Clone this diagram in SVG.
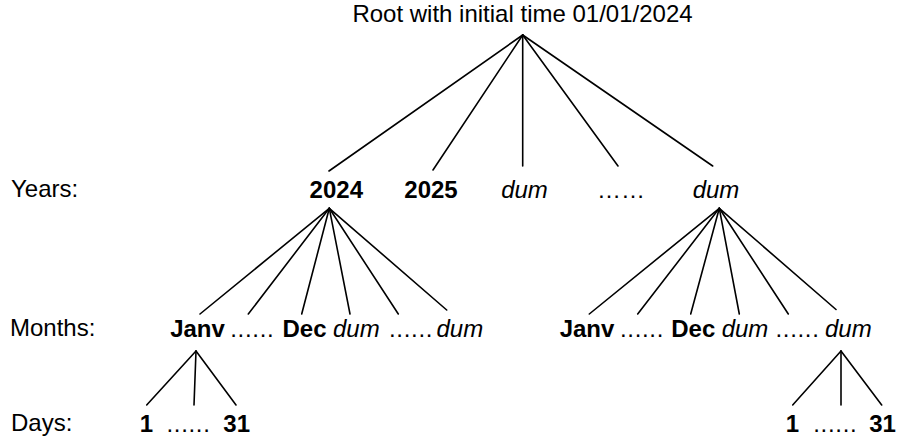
<svg xmlns="http://www.w3.org/2000/svg" width="900" height="441" viewBox="0 0 900 441">
<style>
text{font-family:"Liberation Sans",Arial,sans-serif;font-size:24px;fill:#000;text-anchor:middle}
.l{text-anchor:start}
.b{font-weight:bold}
.i{font-style:italic}
.d{letter-spacing:0.7px}
#connectors line{stroke:#000;stroke-width:1.6;stroke-linecap:round}
</style>
<rect width="900" height="441" fill="#fff"/>
<g id="connectors">
<line x1="522.7" y1="35" x2="329" y2="171"/>
<line x1="522.7" y1="35" x2="433" y2="170"/>
<line x1="522.7" y1="35" x2="522.7" y2="166"/>
<line x1="522.7" y1="35" x2="618" y2="166"/>
<line x1="522.7" y1="35" x2="712.7" y2="166"/>
<line x1="329.3" y1="208.3" x2="200" y2="314"/>
<line x1="329.3" y1="208.3" x2="248.3" y2="314"/>
<line x1="329.3" y1="208.3" x2="301.7" y2="314"/>
<line x1="329.3" y1="208.3" x2="350" y2="314"/>
<line x1="329.3" y1="208.3" x2="398.3" y2="314"/>
<line x1="329.3" y1="208.3" x2="446.7" y2="310"/>
<line x1="719.3" y1="208.3" x2="589.3" y2="314"/>
<line x1="719.3" y1="208.3" x2="637.7" y2="314"/>
<line x1="719.3" y1="208.3" x2="690.7" y2="314"/>
<line x1="719.3" y1="208.3" x2="739.3" y2="314"/>
<line x1="719.3" y1="208.3" x2="788.3" y2="314"/>
<line x1="719.3" y1="208.3" x2="836" y2="309.5"/>
<line x1="196" y1="351" x2="146.7" y2="405"/>
<line x1="196" y1="351" x2="194" y2="405"/>
<line x1="196" y1="351" x2="236" y2="405"/>
<line x1="841" y1="351" x2="792.7" y2="405"/>
<line x1="841" y1="351" x2="841" y2="405"/>
<line x1="841" y1="351" x2="881.7" y2="405"/>
</g>
<g id="labels">
<text class="l" x="11" y="197">Years:</text>
<text class="l" x="10" y="336">Months:</text>
<text class="l" x="11" y="431">Days:</text>
</g>
<g id="root"><text x="522.5" y="22">Root with initial time 01/01/2024</text></g>
<g id="y2024"><text class="b" x="336.3" y="198">2024</text></g>
<g id="y2025"><text class="b" x="431" y="198">2025</text></g>
<g id="ydum1"><text class="i" x="524.5" y="198">dum</text></g>
<g id="ydots"><text x="621" y="198">……</text></g>
<g id="ydum2"><text class="i" x="716" y="198">dum</text></g>
<g id="m1-janv"><text class="b" x="197.5" y="336.5">Janv</text></g>
<g id="m1-dots1"><text class="d" x="252.3" y="336.5">......</text></g>
<g id="m1-dec"><text class="b" x="304.5" y="336.5">Dec</text></g>
<g id="m1-dum1"><text class="i" x="356.3" y="336.5">dum</text></g>
<g id="m1-dots2"><text class="d" x="411.1" y="336.5">......</text></g>
<g id="m1-dum2"><text class="i" x="459.8" y="336.5">dum</text></g>
<g id="m2-janv"><text class="b" x="587" y="336.5">Janv</text></g>
<g id="m2-dots1"><text class="d" x="642" y="336.5">......</text></g>
<g id="m2-dec"><text class="b" x="693.3" y="336.5">Dec</text></g>
<g id="m2-dum1"><text class="i" x="745" y="336.5">dum</text></g>
<g id="m2-dots2"><text class="d" x="797.5" y="336.5">......</text></g>
<g id="m2-dum2"><text class="i" x="848.3" y="336.5">dum</text></g>
<g id="d1-1"><text class="b" x="146.5" y="431.5">1</text></g>
<g id="d1-dots"><text class="d" x="188.5" y="431.5">......</text></g>
<g id="d1-31"><text class="b" x="236.7" y="431.5">31</text></g>
<g id="d2-1"><text class="b" x="792.5" y="431.5">1</text></g>
<g id="d2-dots"><text class="d" x="835.3" y="431.5">......</text></g>
<g id="d2-31"><text class="b" x="882.5" y="431.5">31</text></g>
</svg>
